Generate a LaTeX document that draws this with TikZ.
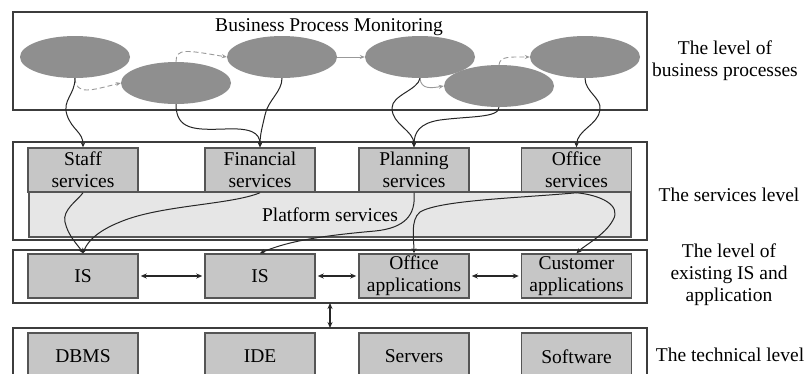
\documentclass[tikz,border=0pt]{standalone}
\usepackage{fontspec}
\setmainfont{Liberation Serif}
\usetikzlibrary{shapes.geometric,arrows.meta}
\definecolor{ellfill}{RGB}{143,143,143}
\definecolor{boxfill}{RGB}{198,198,198}
\definecolor{platfill}{RGB}{230,230,230}
\definecolor{boxline}{RGB}{85,85,85}
\definecolor{frameline}{RGB}{60,60,60}
\begin{document}
\begin{tikzpicture}[x=1pt,y=-1pt,
  txt/.style={font=\fontsize{19.5}{22}\selectfont, text=black},
  frame/.style={draw=frameline, line width=1.6pt, fill=white},
  box/.style={txt, draw=boxline, line width=1.5pt, fill=boxfill, minimum width=110pt, minimum height=44pt, inner sep=0pt, align=center},
  tbox/.style={box, minimum height=47pt},
  ell/.style={ellipse, fill=ellfill, minimum width=110pt, minimum height=42pt, inner sep=0pt},
  conn/.style={draw=black!85, line width=1pt, -{Stealth[length=5pt,width=4.5pt]}},
  flow/.style={draw=gray!80, line width=0.9pt, -{Stealth[length=5pt,width=4pt]}},
  dflow/.style={flow, dash pattern=on 5pt off 3pt},
  twoway/.style={draw=black!85, line width=1.1pt, {Stealth[length=6pt,width=5pt]}-{Stealth[length=6pt,width=5pt]}},
  lvl/.style={txt, align=center}
]
\useasboundingbox (0,0) rectangle (805,373);
\clip (0,0) rectangle (805,373);
\fill[white] (0,0) rectangle (805,373);

% frames
\draw[frame] (13,12) rectangle (647,110);
\draw[frame] (13,142) rectangle (647,240);
\draw[frame] (13,250) rectangle (647,303);
\draw[frame] (13,328) rectangle (647,395);

% business processes
\node[txt] (bpm) at (329,27) {Business Process Monitoring};
\node[ell] (e1) at (75,57) {};
\node[ell] (e2) at (176,83) {};
\node[ell] (e3) at (282,57) {};
\node[ell] (e4) at (420,57) {};
\node[ell] (e5) at (499,86) {};
\node[ell] (e6) at (585,57) {};

\draw[dflow] (e1.south) .. controls (76,96) and (92,90) .. (e2.west);
\draw[dflow] (e2.north) .. controls (176,48) and (186,50) .. (e3.west);
\draw[flow] (e3.east) -- (e4.west);
\draw[flow] (e4.south) .. controls (421,90) and (432,88) .. (e5.west);
\draw[dflow] (e5.north) .. controls (500,56) and (510,57) .. (e6.west);

% services level
\node[box, minimum width=602pt, minimum height=45pt, fill=platfill] (plat) at (330,214.5) {\raisebox{-4pt}{Platform services}};
\node[box] (staff) at (83,170) {Staff\\services};
\node[box] (fin) at (260,170) {Financial\\services};
\node[box] (plan) at (414,170) {Planning\\services};
\node[box] (off) at (576.5,170) {Office\\services};

% IS level
\node[box] (is1) at (83,276) {IS};
\node[box] (is2) at (260,276) {IS};
\node[box] (oa) at (414,276) {Office\\applications};
\node[box] (ca) at (576.5,276) {Customer\\applications};

% technical level
\node[tbox] (dbms) at (83,356.5) {DBMS};
\node[tbox] (ide) at (260,356.5) {IDE};
\node[tbox] (srv) at (414,356.5) {Servers};
\node[tbox] (sw) at (576.5,356.5) {Software};

% connectors processes -> services
\draw[conn] (e1.south) .. controls (75,95) and (62,100) .. (67,115) .. controls (72,130) and (83,132) .. (staff.north);
\draw[conn] (e2.south) .. controls (176,130) and (195,130) .. (225,129) .. controls (250,128) and (260,132) .. (fin.north);
\draw[conn] (e3.south) .. controls (282,92) and (268,100) .. (265,115) .. controls (262,128) and (260,135) .. (fin.north);
\draw[conn] (e4.south) .. controls (418,90) and (392,95) .. (392,108) .. controls (392,125) and (414,130) .. (plan.north);
\draw[conn] (e5.south) .. controls (499,118) and (470,116) .. (440,120) .. controls (420,123) and (414,132) .. (plan.north);
\draw[conn] (e6.south) .. controls (585,92) and (602,98) .. (600,110) .. controls (598,125) and (577,130) .. (off.north);

% connectors services -> IS
\draw[conn] (staff.south) .. controls (78,200) and (62,210) .. (65,222) .. controls (68,236) and (78,245) .. (is1.north);
\draw[conn] (fin.south) .. controls (230,205) and (160,205) .. (120,222) .. controls (100,230) and (88,240) .. (is1.north);
\draw[conn] (plan.south) .. controls (416,215) and (405,228) .. (375,231) .. controls (330,235) and (290,240) .. (is2.north);
\draw[conn] (off.south) .. controls (520,198) and (440,200) .. (420,212) .. controls (410,220) and (414,240) .. (oa.north);
\draw[conn] (off.south) .. controls (600,195) and (622,205) .. (613,220) .. controls (605,235) and (585,245) .. (ca.north);

% two-way arrows
\draw[twoway] ([xshift=2pt]is1.east) -- ([xshift=-2pt]is2.west);
\draw[twoway] ([xshift=2pt]is2.east) -- ([xshift=-2pt]oa.west);
\draw[twoway] ([xshift=2pt]oa.east) -- ([xshift=-2pt]ca.west);
\coordinate (v1) at (330,303);
\coordinate (v2) at (330,328);
\draw[twoway] (v1) -- (v2);

% level labels
\node[lvl] (l1) at (725,61) {The level of\\business processes};
\node[lvl] (l2) at (729,195) {The services level};
\node[lvl] (l3) at (729,275) {The level of\\existing IS and\\application};
\node[lvl] (l4) at (730,355) {The technical level};
\end{tikzpicture}
\end{document}
